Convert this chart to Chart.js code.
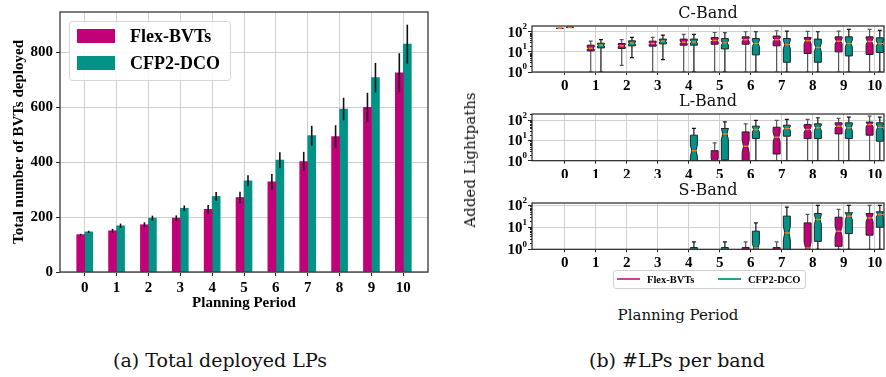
<!DOCTYPE html>
<html>
<head>
<meta charset="utf-8">
<script src="https://cdn.jsdelivr.net/npm/chart.js@4.4.1/dist/chart.umd.min.js"></script>
<style>
  body { margin: 0; background: #fff; width: 886px; height: 377px; position: relative; overflow: hidden; }
  canvas { position: absolute; }
  .txt { position: absolute; font-family: "DejaVu Serif", serif; color: #111; white-space: nowrap; transform: translate(-50%, -50%); }
  #legendB { position: absolute; left: 613px; top: 270px; width: 191px; height: 17px; border: 1px solid #d0d0d0; border-radius: 3px;
             font: bold 10.5px "Liberation Serif", serif; color: #000; }
  #legendB span { position: absolute; top: 8px; transform: translateY(-50%); }
  #legendB .sw { position: absolute; top: 7px; width: 23px; height: 0; border-top: 2px solid; }
</style>
</head>
<body>
<canvas id="bars" width="450" height="320" style="left:0;top:0"></canvas>
<canvas id="cband" width="426" height="90" style="left:460px;top:0"></canvas>
<canvas id="lband" width="426" height="90" style="left:460px;top:88px"></canvas>
<canvas id="sband" width="426" height="90" style="left:460px;top:177px"></canvas>

<div class="txt" style="left:470px;top:160px;font-size:15px;transform:translate(-50%,-50%) rotate(-90deg)">Added Lightpaths</div>
<div id="legendB">
  <div class="sw" style="left:3px;border-color:#d0409a"></div><span style="left:33px">Flex-BVTs</span>
  <div class="sw" style="left:104px;border-color:#1aa596"></div><span style="left:134px">CFP2-DCO</span>
</div>
<div class="txt" style="left:678px;top:315px;font-size:15px">Planning Period</div>
<div class="txt" style="left:220px;top:360px;font-size:19px">(a) Total deployed LPs</div>
<div class="txt" style="left:677px;top:360px;font-size:19px">(b) #LPs per band</div>

<script>
const SERIF = '"Liberation Serif", "Times New Roman", serif';
const MAGENTA = '#c20078';
const TEAL = '#029386';

// ---- (a) totals ----
const periods = [0, 1, 2, 3, 4, 5, 6, 7, 8, 9, 10];
const flexTotal = [136, 150, 172, 196, 228, 271, 328, 402, 493, 599, 725];
const flexErr   = [3, 7, 9, 10, 16, 21, 29, 35, 41, 53, 71];
const cfpTotal  = [146, 168, 196, 232, 275, 332, 407, 496, 593, 707, 829];
const cfpErr    = [4, 8, 9, 10, 16, 20, 29, 36, 41, 54, 71];
const totalTicks = [0, 200, 400, 600, 800];

// ---- (b) per band, each entry [whisker low, q1, median, q3, whisker high] ----
const cFlex = [[147,147,147,147,147],[1,11.2,15.2,21.5,34],[2.15,14.7,20,26,41],[1,19.2,26,34,52],[1,21.5,30,43,74],
  [1,24,37,52,92],[1,24,40,56,100],[1,20,40,61,112],[1,8.3,35.5,52,104],[1,10,34,56,108],[1,7.4,33,56,130]];
const cCfp = [[165,165,165,165,165],[1,15.8,21.5,27,41],[5.2,20,27,35.5,52],[4.1,25,34,43,68],[1,21.5,31.6,43,74],
  [1,14,28,46,89],[1,7.1,26,46,100],[1,3.05,23,46,108],[1,3.05,16.5,43,100],[1,6.3,26,56,130],[1,9.3,26,50,117]];
const lFlex = [null,null,null,null,null,[0.5,0.5,0.9,3.16,7.6],[0.5,0.5,5.2,27,68],[1,2.15,14.7,46,100],
  [1,12.6,35.5,63,112],[1,21.5,52,76,126],[1,18.5,63,83,165]];
const lCfp = [null,null,null,null,[0.5,0.5,3.16,18.5,40],[1,1.1,21.5,40,85],[1,12.6,35.5,52,100],[1,16.5,40,58,112],
  [1,12.6,43,68,136],[1,12.6,43,76,147],[1,9.3,46,76,147]];
const sFlex = [null,null,null,null,null,null,[0.5,0.5,0.9,1.2,2.2],[0.5,0.5,0.9,1.2,2.2],[0.5,0.5,1.15,16,39],
  [1,1.37,6.7,29,66],[1,4.4,27,43,100]];
const sCfp = [null,null,null,null,[0.5,0.5,0.9,1.2,2.2],[0.5,0.5,0.9,1.2,2.2],[0.5,0.5,1.15,6.7,16],
  [0.5,0.5,5.6,32.5,83],[1,2.3,23,43,100],[1,5.2,32.5,46,100],[1,10.2,39,51,100]];
const logTicks = [1, 10, 100];
const logExps = ['0', '1', '2'];

const frame = {
  id: 'frame',
  afterDatasetsDraw(chart) {
    const { ctx, chartArea: a } = chart;
    ctx.save();
    ctx.strokeStyle = '#262626';
    ctx.lineWidth = 1.2;
    ctx.strokeRect(a.left, a.top, a.right - a.left, a.bottom - a.top);
    ctx.restore();
  }
};

const errorBars = {
  id: 'errorBars',
  afterDatasetsDraw(chart) {
    const { ctx, scales: { y } } = chart;
    ctx.save();
    ctx.strokeStyle = '#111';
    ctx.lineWidth = 1.6;
    chart.data.datasets.forEach((ds, di) => {
      chart.getDatasetMeta(di).data.forEach((bar, i) => {
        const v = ds.data[i].y, e = ds.errors[i];
        ctx.beginPath();
        ctx.moveTo(bar.x, y.getPixelForValue(v - e));
        ctx.lineTo(bar.x, y.getPixelForValue(v + e));
        ctx.stroke();
      });
    });
    ctx.restore();
  }
};

const legendBox = {
  id: 'legendBox',
  afterDraw(chart) {
    const { ctx, chartArea: a } = chart;
    const x = a.left + 9, y = a.top + 9, w = 161, h = 59;
    ctx.save();
    ctx.beginPath();
    ctx.roundRect(x + 0.5, y + 0.5, w, h, 3);
    ctx.fillStyle = 'rgba(255,255,255,0.85)';
    ctx.fill();
    ctx.strokeStyle = '#d6d6d6';
    ctx.lineWidth = 1;
    ctx.stroke();
    ctx.font = 'bold 18px ' + SERIF;
    ctx.textBaseline = 'middle';
    chart.data.datasets.forEach((ds, i) => {
      const cy = y + 15 + i * 27;
      ctx.fillStyle = ds.backgroundColor;
      ctx.fillRect(x + 8, cy - 7, 38, 14);
      ctx.fillStyle = '#000';
      ctx.fillText(ds.label, x + 61, cy + 1);
    });
    ctx.restore();
  }
};

const tickFont = { family: SERIF, size: 15, weight: 'bold' };

new Chart(document.getElementById('bars'), {
  type: 'bar',
  data: {
    datasets: [
      { label: 'Flex-BVTs', data: periods.map((p, i) => ({ x: p, y: flexTotal[i] })), errors: flexErr,
        backgroundColor: MAGENTA, barThickness: 8 },
      { label: 'CFP2-DCO', data: periods.map((p, i) => ({ x: p, y: cfpTotal[i] })), errors: cfpErr,
        backgroundColor: TEAL, barThickness: 8 }
    ]
  },
  options: {
    responsive: false,
    animation: false,
    layout: { padding: { left: 0, top: 7, right: 22, bottom: 0 } },
    plugins: { legend: { display: false }, tooltip: { enabled: false } },
    scales: {
      x: {
        type: 'linear', min: -0.775, max: 10.775, offset: false,
        afterBuildTicks: s => { s.ticks = periods.map(v => ({ value: v })); },
        afterFit: s => { s.height = 48; },
        grid: { color: '#d0d0d0', offset: false, tickLength: 4, tickColor: '#222' },
        border: { display: false },
        ticks: { font: tickFont, color: '#000', padding: 3, maxRotation: 0, autoSkip: false },
        title: { display: true, text: 'Planning Period', color: '#000',
                 font: { family: SERIF, size: 15, weight: 'bold' }, padding: { top: 0, bottom: 8 } }
      },
      y: {
        min: 0, max: 946,
        afterBuildTicks: s => { s.ticks = totalTicks.map(v => ({ value: v })); },
        afterFit: s => { s.width = 60; },
        grid: { color: '#d0d0d0', tickLength: 4, tickColor: '#222' },
        border: { display: false },
        ticks: { font: tickFont, color: '#000', padding: 3 },
        title: { display: true, text: 'Total number of BVTs deployed', color: '#000',
                 font: { family: SERIF, size: 15, weight: 'bold' }, padding: { top: 10, bottom: 0 } }
      }
    }
  },
  plugins: [errorBars, frame, legendBox]
});

// ---- box plots ----
const boxes = {
  id: 'boxes',
  afterDatasetsDraw(chart) {
    const { ctx, chartArea: a, scales: { y } } = chart;
    ctx.save();
    ctx.beginPath();
    ctx.rect(a.left, a.top, a.right - a.left, a.bottom - a.top);
    ctx.clip();
    chart.data.datasets.forEach((ds, di) => {
      chart.getDatasetMeta(di).data.forEach((el, i) => {
        const [lo, q1, med, q3, hi] = ds.stats[i].map(v => y.getPixelForValue(v));
        const w = el.width, L = el.x - w / 2, R = el.x + w / 2;
        const nh = Math.min(7, Math.abs(q1 - q3) * 0.18);
        const ins = w * 0.2;
        // whiskers and caps
        ctx.strokeStyle = ds.whiskerColor;
        ctx.lineWidth = 1.2;
        ctx.beginPath();
        ctx.moveTo(el.x, q3); ctx.lineTo(el.x, hi);
        ctx.moveTo(el.x, q1); ctx.lineTo(el.x, lo);
        ctx.moveTo(el.x - w * 0.28, hi); ctx.lineTo(el.x + w * 0.28, hi);
        ctx.moveTo(el.x - w * 0.28, lo); ctx.lineTo(el.x + w * 0.28, lo);
        ctx.stroke();
        // notched box
        ctx.beginPath();
        ctx.moveTo(L, q1);
        ctx.lineTo(L, med + nh); ctx.lineTo(L + ins, med); ctx.lineTo(L, med - nh);
        ctx.lineTo(L, q3); ctx.lineTo(R, q3);
        ctx.lineTo(R, med - nh); ctx.lineTo(R - ins, med); ctx.lineTo(R, med + nh);
        ctx.lineTo(R, q1);
        ctx.closePath();
        ctx.fillStyle = ds.boxColor;
        ctx.fill();
        ctx.strokeStyle = '#222';
        ctx.lineWidth = 1;
        ctx.stroke();
        // median
        ctx.strokeStyle = '#ff7f0e';
        ctx.lineWidth = 1.5;
        ctx.beginPath();
        ctx.moveTo(L + ins, med); ctx.lineTo(R - ins, med);
        ctx.stroke();
      });
    });
    ctx.restore();
  }
};

const logLabels = {
  id: 'logLabels',
  afterDraw(chart) {
    const { ctx, chartArea: a, scales: { y } } = chart;
    ctx.save();
    ctx.strokeStyle = '#222';
    ctx.lineWidth = 1;
    for (let d = 0; d < 3; d++) {
      for (let m = 2; m < 10; m++) {
        const v = m * Math.pow(10, d);
        if (v > y.max) break;
        const py = Math.round(y.getPixelForValue(v)) + 0.5;
        ctx.beginPath(); ctx.moveTo(a.left - 2, py); ctx.lineTo(a.left, py); ctx.stroke();
      }
    }
    ctx.fillStyle = '#000';
    ctx.textBaseline = 'middle';
    ctx.textAlign = 'right';
    logTicks.forEach((v, i) => {
      const py = y.getPixelForValue(v);
      ctx.font = 'bold 9px ' + SERIF;
      const ew = ctx.measureText(logExps[i]).width;
      ctx.fillText(logExps[i], a.left - 5, py - 5);
      ctx.font = 'bold 15px ' + SERIF;
      ctx.fillText('10', a.left - 5 - ew, py + 1);
    });
    ctx.restore();
  }
};

function boxSet(label, stats, shift, boxColor, whiskerColor) {
  const data = [], kept = [];
  stats.forEach((s, i) => {
    if (s) { data.push({ x: periods[i] + shift, y: [s[1], s[3]] }); kept.push(s); }
  });
  return { label, data, stats: kept, boxColor, whiskerColor, barThickness: 7, grouped: false,
           backgroundColor: 'rgba(0,0,0,0)', borderWidth: 0 };
}

function band(id, title, flexStats, cfpStats, ymax, axisH) {
  new Chart(document.getElementById(id), {
    type: 'bar',
    data: {
      datasets: [
        boxSet('Flex-BVTs', flexStats, -0.165, MAGENTA, '#555'),
        boxSet('CFP2-DCO', cfpStats, 0.165, TEAL, '#111')
      ]
    },
    options: {
      responsive: false,
      animation: false,
      layout: { padding: { left: 0, top: 0, right: 2, bottom: 0 } },
      plugins: {
        legend: { display: false }, tooltip: { enabled: false },
        title: { display: true, text: title, fullSize: false, color: '#111',
                 font: { family: '"DejaVu Serif", serif', size: 16, weight: 'normal' },
                 padding: { top: 4.4, bottom: 2.4 } }
      },
      scales: {
        x: {
          type: 'linear', min: -1.06, max: 10.3, offset: false,
          afterBuildTicks: s => { s.ticks = periods.map(v => ({ value: v })); },
          afterFit: s => { s.height = axisH; },
          grid: { color: '#d0d0d0', offset: false, tickLength: 3, tickColor: '#222' },
          border: { display: false },
          ticks: { font: tickFont, color: '#000', padding: 2, maxRotation: 0, autoSkip: false }
        },
        y: {
          type: 'logarithmic', min: 1, max: ymax,
          afterBuildTicks: s => { s.ticks = logTicks.map(v => ({ value: v, major: true })); },
          afterFit: s => { s.width = 72; },
          grid: { color: '#d0d0d0', tickLength: 4, tickColor: '#222' },
          border: { display: false },
          ticks: { display: false }
        }
      }
    },
    plugins: [boxes, frame, logLabels]
  });
}

band('cband', 'C-Band', cFlex, cCfp, 193, 18);
band('lband', 'L-Band', lFlex, lCfp, 209, 17.3);
band('sband', 'S-Band', sFlex, sCfp, 129, 17.7);
</script>
</body>
</html>
